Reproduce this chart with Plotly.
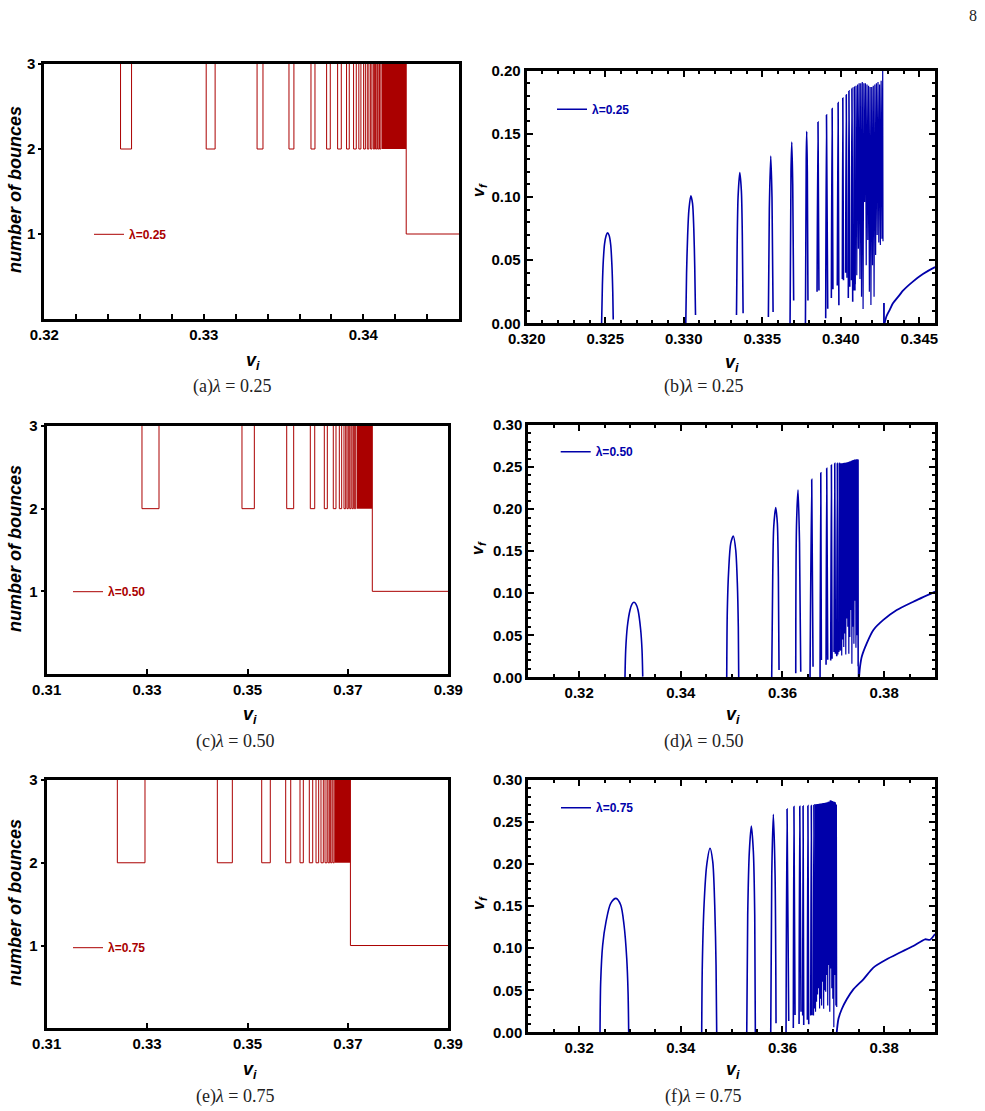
import plotly.graph_objects as go

W, H = 985, 1111
RED = "#AA0000"
BLUE = "#0000AA"
SANS = "Liberation Sans, Arial, sans-serif"
SERIF = "Liberation Serif, DejaVu Serif, serif"

# ---------------- data: number of bounces (left column) ----------------
bounce_levels = [3, 2, 1]          # outside windows, inside windows, after escape

a_win_start = [0.32478, 0.33015, 0.33334, 0.33534, 0.33672, 0.33770, 0.33839, 0.33895, 0.33939,
               0.33972, 0.34002, 0.34025, 0.34046, 0.34063, 0.34077, 0.34090, 0.34102]
a_win_end = [0.32547, 0.33071, 0.33371, 0.33565, 0.33697, 0.33793, 0.33862, 0.33912, 0.33956,
             0.33985, 0.34013, 0.34035, 0.34054, 0.34071, 0.34085, 0.34098, 0.34110]
a_band = [0.34115, 0.34269]        # dense chaotic band, escape velocity

c_win_start = [0.32898, 0.34890, 0.35781, 0.36251, 0.36530, 0.36709, 0.36829, 0.36922, 0.36982,
               0.37036, 0.37082, 0.37128]
c_win_end = [0.33237, 0.35136, 0.35920, 0.36339, 0.36590, 0.36763, 0.36876, 0.36956, 0.37008,
             0.37062, 0.37108, 0.37155]
c_band = [0.37175, 0.37486]

e_win_start = [0.32407, 0.34399, 0.35283, 0.35761, 0.36046, 0.36231, 0.36365, 0.36464, 0.36544,
               0.36604, 0.36657, 0.36703]
e_win_end = [0.32958, 0.34698, 0.35454, 0.35861, 0.36112, 0.36299, 0.36418, 0.36510, 0.36584,
             0.36637, 0.36684, 0.36729]
e_band = [0.36743, 0.37050]

# ---------------- data: final velocity (right column) ----------------
# (b) lambda = 0.25 -- resonance windows (arches), segments separated by None
b_arch_x = [0.32477, 0.32482, 0.32488, 0.32496, 0.32506, 0.32515, 0.32525, 0.32535, 0.32543, 0.32548, 0.32551, None,
            0.33013, 0.33018, 0.33025, 0.33033, 0.33045, 0.33056, 0.33064, 0.33070, 0.33075, None,
            0.33336, 0.33340, 0.33346, 0.33357, 0.33367, 0.33373, 0.33378, None,
            0.33539, 0.33545, 0.33554, 0.33562, 0.33569, None,
            0.33677, 0.33683, 0.33688, 0.33694, 0.33700, None,
            0.33775, 0.33780, 0.33783, 0.33787, 0.33791, None,
            0.33849, 0.33855, 0.33861, None,
            0.33904, 0.33909, 0.33917, None,
            0.33940, 0.33945, 0.33950, None,
            0.33978, 0.33983, 0.33988, None,
            0.34010, 0.34013, 0.34017, None,
            0.34031, 0.34035, 0.34040, None,
            0.34048, 0.34052, 0.34057, None,
            0.34067, 0.34071, 0.34076, None,
            0.34082, 0.34086, 0.34090]
b_arch_y = [0.0, 0.030, 0.050, 0.063, 0.0695, 0.0717, 0.0695, 0.062, 0.045, 0.025, 0.003, None,
            0.0, 0.040, 0.070, 0.090, 0.101, 0.095, 0.075, 0.045, 0.0066, None,
            0.0066, 0.060, 0.100, 0.1193, 0.105, 0.070, 0.008, None,
            0.005, 0.090, 0.1325, 0.100, 0.009, None,
            0.0, 0.120, 0.1435, 0.110, 0.018, None,
            0.0, 0.130, 0.152, 0.120, 0.018, None,
            0.025, 0.1594, 0.026, None,
            0.004, 0.165, 0.0116, None,
            0.020, 0.170, 0.027, None,
            0.030, 0.1747, 0.0142, None,
            0.035, 0.1784, 0.034, None,
            0.040, 0.181, 0.036, None,
            0.020, 0.184, 0.029, None,
            0.034, 0.186, 0.017, None,
            0.026, 0.187, 0.026]
b_dense_x = [0.34092, 0.34097, 0.34102, 0.34107, 0.34112, 0.34117, 0.34122, 0.34127, 0.34132, 0.34137,
             0.34142, 0.34147, 0.34152, 0.34157, 0.34162, 0.34167, 0.34172, 0.34177, 0.34182, 0.34187,
             0.34192, 0.34197, 0.34202, 0.34207, 0.34212, 0.34217, 0.34222, 0.34227, 0.34232, 0.34237,
             0.34242, 0.34247, 0.34252, 0.34257, 0.34262, 0.34267, 0.34269]
b_dense_y = [0.031, 0.188, 0.038, 0.189, 0.059, 0.190, 0.035, 0.190, 0.021, 0.191,
             0.0114, 0.190, 0.096, 0.190, 0.046, 0.189, 0.066, 0.188, 0.025, 0.187,
             0.0145, 0.187, 0.046, 0.188, 0.021, 0.189, 0.054, 0.190, 0.070, 0.191,
             0.064, 0.189, 0.062, 0.192, 0.067, 0.200, 0.065]
b_escape_x = [0.34275, 0.34275, None, 0.34279, 0.34290, 0.34311, 0.34332, 0.34375, 0.34396, 0.34459, 0.34523, 0.34597, 0.34610]
b_escape_y = [0.0, 0.016, None, 0.0, 0.0052, 0.0105, 0.0158, 0.0225, 0.0258, 0.0330, 0.0390, 0.0443, 0.0450]

# (d) lambda = 0.50
d_arch_x = [0.32902, 0.32916, 0.32948, 0.33001, 0.33040, 0.33079, 0.33118, 0.33158, 0.33211, 0.33237, 0.33251, None,
            0.34903, 0.34915, 0.34942, 0.34982, 0.35033, 0.35080, 0.35112, 0.35131, 0.35139, None,
            0.35788, 0.35808, 0.35828, 0.35867, 0.35899, 0.35919, 0.35932, None,
            0.36261, 0.36275, 0.36306, 0.36335, 0.36359, None,
            0.36542, 0.36575, 0.36601, None,
            0.36739, 0.36753, 0.36765, None,
            0.36857, 0.36870, 0.36890, None,
            0.36949, 0.36962, 0.36975, None,
            0.37014, 0.37028, 0.37040, None,
            0.37067, 0.37079, 0.37087, None,
            0.37107, 0.37118, 0.37126]
d_arch_y = [0.0, 0.0325, 0.0601, 0.0800, 0.0870, 0.0892, 0.0870, 0.0800, 0.0562, 0.0325, 0.0008, None,
            0.0, 0.080, 0.1277, 0.1593, 0.168, 0.1514, 0.1117, 0.060, 0.0, None,
            0.0, 0.1196, 0.1791, 0.2017, 0.183, 0.1196, 0.0087, None,
            0.0048, 0.1791, 0.2227, 0.1593, 0.0067, None,
            0.0, 0.2353, 0.0126, None,
            0.0, 0.2433, 0.0206, None,
            0.015, 0.2485, 0.021, None,
            0.020, 0.2524, 0.022, None,
            0.030, 0.2544, 0.028, None,
            0.025, 0.2544, 0.027, None,
            0.030, 0.2544, 0.032]
d_dense_x = [0.37135, 0.37145, 0.37155, 0.37165, 0.37175, 0.37185, 0.37195, 0.37205, 0.37215, 0.37225,
             0.37235, 0.37245, 0.37255, 0.37265, 0.37275, 0.37285, 0.37295, 0.37305, 0.37315, 0.37325,
             0.37335, 0.37345, 0.37355, 0.37365, 0.37375, 0.37385, 0.37395, 0.37405, 0.37415, 0.37425,
             0.37435, 0.37445, 0.37455, 0.37465, 0.37475, 0.37485, 0.37490, 0.37492]
d_dense_y = [0.2544, 0.032, 0.2545, 0.026, 0.2546, 0.045, 0.2548, 0.036, 0.2550, 0.052,
             0.2552, 0.027, 0.2555, 0.070, 0.2558, 0.060, 0.2560, 0.028, 0.2565, 0.048,
             0.2570, 0.080, 0.2575, 0.016, 0.2580, 0.060, 0.2585, 0.040, 0.2590, 0.091,
             0.2590, 0.035, 0.2592, 0.050, 0.2592, 0.013, 0.2590, 0.0]
d_escape_x = [0.37506, 0.37526, 0.37559, 0.37657, 0.37788, 0.37984, 0.38248, 0.38574, 0.39001]
d_escape_y = [0.0, 0.013, 0.0245, 0.0404, 0.0563, 0.0682, 0.0800, 0.0899, 0.1018]

# (f) lambda = 0.75
f_arch_x = [0.32411, 0.32424, 0.32463, 0.32529, 0.32621, 0.32725, 0.32818, 0.32883, 0.32936, 0.32962, 0.32975, None,
            0.34411, 0.34423, 0.34457, 0.34510, 0.34575, 0.34628, 0.34667, 0.34693, 0.34706, None,
            0.35297, 0.35316, 0.35348, 0.35387, 0.35427, 0.35454, 0.35466, None,
            0.35769, 0.35789, 0.35820, 0.35854, 0.35873, None,
            0.36070, 0.36090, 0.36123, None,
            0.36213, 0.36225, 0.36247, None,
            0.36326, 0.36340, 0.36365, None,
            0.36398, 0.36405, 0.36418, None,
            0.36489, 0.36500, 0.36516, None,
            0.36556, 0.36567, 0.36581, None,
            0.36607, 0.36618, 0.36634]
f_arch_y = [0.0, 0.0601, 0.1037, 0.1315, 0.1533, 0.1593, 0.1514, 0.1276, 0.0880, 0.0483, 0.0, None,
            0.0, 0.080, 0.1514, 0.1990, 0.2188, 0.2030, 0.1514, 0.080, 0.0, None,
            0.0, 0.1395, 0.2148, 0.2453, 0.2148, 0.1395, 0.0, None,
            0.0, 0.187, 0.2592, 0.187, 0.0107, None,
            0.0, 0.2655, 0.0133, None,
            0.005, 0.2684, 0.0207, None,
            0.010, 0.2688, 0.0245, None,
            0.020, 0.2691, 0.0087, None,
            0.015, 0.2695, 0.0095, None,
            0.020, 0.2697, 0.0206, None,
            0.020, 0.2703, 0.0283]
f_dense_x = [0.36640, 0.36650, 0.36660, 0.36670, 0.36680, 0.36690, 0.36700, 0.36710, 0.36720, 0.36730,
             0.36740, 0.36750, 0.36760, 0.36770, 0.36780, 0.36790, 0.36800, 0.36810, 0.36820, 0.36830,
             0.36840, 0.36850, 0.36860, 0.36870, 0.36880, 0.36890, 0.36900, 0.36910, 0.36920, 0.36930,
             0.36940, 0.36950, 0.36960, 0.36970, 0.36980, 0.36990, 0.37000, 0.37010, 0.37020, 0.37030,
             0.37040, 0.37050, 0.37060, 0.37067]
f_dense_y = [0.2711, 0.0245, 0.2712, 0.0364, 0.2714, 0.045, 0.2716, 0.0523, 0.2718, 0.0283,
             0.2720, 0.040, 0.2722, 0.032, 0.2724, 0.0602, 0.2726, 0.028, 0.2728, 0.050,
             0.2730, 0.0483, 0.2733, 0.0681, 0.2736, 0.032, 0.2740, 0.080, 0.2745, 0.0245,
             0.2760, 0.076, 0.2755, 0.0523, 0.2750, 0.040, 0.2745, 0.006, 0.2740, 0.068,
             0.2735, 0.032, 0.2710, 0.030]
f_escape_x = [0.37067, 0.37099, 0.37165, 0.37264, 0.37394, 0.37591, 0.37788, 0.38051, 0.38313, 0.38574,
              0.38804, 0.38903, 0.39001]
f_escape_y = [0.0, 0.0155, 0.0274, 0.0393, 0.0511, 0.0630, 0.0769, 0.0868, 0.0948, 0.1027,
              0.1106, 0.1100, 0.1169]

# ---------------- tick labels ----------------
a_xticks = [0.32, 0.33, 0.34]
ce_xticks = [0.31, 0.33, 0.35, 0.37, 0.39]
bounce_yticks = [1, 2, 3]
b_xticks = [0.320, 0.325, 0.330, 0.335, 0.340, 0.345]
b_yticks = [0.00, 0.05, 0.10, 0.15, 0.20]
df_xticks = [0.32, 0.34, 0.36, 0.38]
df_yticks = [0.00, 0.05, 0.10, 0.15, 0.20, 0.25, 0.30]

# ---------------- layout geometry (pixels) ----------------
panels = {
    1: dict(l=44.3, r=459.0, t=64.0, b=319.0),
    2: dict(l=526.7, r=935.0, t=70.7, b=323.3),
    3: dict(l=46.7, r=448.3, t=426.0, b=674.0),
    4: dict(l=528.3, r=935.0, t=425.0, b=677.3),
    5: dict(l=46.7, r=448.3, t=780.0, b=1028.3),
    6: dict(l=528.3, r=935.0, t=780.0, b=1032.3),
}


def xdom(p):
    return [p["l"] / W, p["r"] / W]


def ydom(p):
    return [1 - p["b"] / H, 1 - p["t"] / H]


fig = go.Figure()


def add_bounce(n, starts, ends, band, xr, lam, legend):
    # window outlines (the level-3 baseline coincides with the frame, so it is not drawn)
    xs, ys = [], []
    for s, e in zip(starts, ends):
        xs += [s, s, e, e, None]
        ys += [bounce_levels[0], bounce_levels[1], bounce_levels[1], bounce_levels[0], None]
    xs += [band[1], band[1], xr[1]]
    ys += [bounce_levels[0], bounce_levels[2], bounce_levels[2]]
    ax = "" if n == 1 else str(n)
    fig.add_trace(go.Scatter(
        x=[band[0], band[1], band[1], band[0], band[0]],
        y=[bounce_levels[1], bounce_levels[1], bounce_levels[0], bounce_levels[0], bounce_levels[1]],
        mode="lines", fill="toself", fillcolor=RED, line=dict(width=0, color=RED),
        xaxis="x" + ax, yaxis="y" + ax, showlegend=False, hoverinfo="skip"))
    fig.add_trace(go.Scatter(
        x=xs, y=ys, mode="lines", line=dict(color=RED, width=1), connectgaps=False,
        name=lam, xaxis="x" + ax, yaxis="y" + ax, legend=legend, showlegend=True))


def add_vf(n, ax_, ay_, dx, dy, ex, ey, lam, legend):
    ax = str(n)
    fig.add_trace(go.Scatter(
        x=dx, y=dy, mode="lines", line=dict(color=BLUE, width=1.2),
        xaxis="x" + ax, yaxis="y" + ax, showlegend=False, hoverinfo="skip"))
    fig.add_trace(go.Scatter(
        x=ex, y=ey, mode="lines", line=dict(color=BLUE, width=1.8, shape="spline", smoothing=0.6),
        connectgaps=False, xaxis="x" + ax, yaxis="y" + ax, showlegend=False, hoverinfo="skip"))
    fig.add_trace(go.Scatter(
        x=ax_, y=ay_, mode="lines", line=dict(color=BLUE, width=1.6, shape="spline", smoothing=0.8),
        connectgaps=False, name=lam, xaxis="x" + ax, yaxis="y" + ax, legend=legend, showlegend=True))


add_bounce(1, a_win_start, a_win_end, a_band, [0.32, 0.346], "λ=0.25", "legend")
add_vf(2, b_arch_x, b_arch_y, b_dense_x, b_dense_y, b_escape_x, b_escape_y, "λ=0.25", "legend2")
add_bounce(3, c_win_start, c_win_end, c_band, [0.31, 0.39], "λ=0.50", "legend3")
add_vf(4, d_arch_x, d_arch_y, d_dense_x, d_dense_y, d_escape_x, d_escape_y, "λ=0.50", "legend4")
add_bounce(5, e_win_start, e_win_end, e_band, [0.31, 0.39], "λ=0.75", "legend5")
add_vf(6, f_arch_x, f_arch_y, f_dense_x, f_dense_y, f_escape_x, f_escape_y, "λ=0.75", "legend6")

tickfont = dict(family=SANS, size=15, color="black", weight="bold")
layout = dict(width=W, height=H, margin=dict(l=0, r=0, t=0, b=0, pad=0, autoexpand=False),
              paper_bgcolor="white", plot_bgcolor="white", showlegend=True)


def left_axes(n, xr, xt, minor_dt):
    p = panels[n]
    ax = "" if n == 1 else str(n)
    xa = dict(domain=xdom(p), anchor="y" + ax, range=xr, tickmode="array", tickvals=xt, tickformat=".2f",
              showline=True, linewidth=3, linecolor="black", mirror=True, ticks="inside", ticklen=5,
              tickwidth=1.5, tickcolor="black", showgrid=False, zeroline=False, tickfont=tickfont,
              automargin=False)
    if minor_dt:
        xa["minor"] = dict(tickmode="linear", tick0=xr[0], dtick=minor_dt, ticks="inside", ticklen=5,
                           tickwidth=1.5, tickcolor="black", showgrid=False)
    ya = dict(domain=ydom(p), anchor="x" + ax, range=[0, 3], tickmode="array", tickvals=bounce_yticks,
              showline=True, linewidth=3, linecolor="black", mirror=True, ticks="outside", ticklen=3,
              tickwidth=1.5, tickcolor="black", showgrid=False, zeroline=False, tickfont=tickfont,
              automargin=False)
    layout["xaxis" + ax] = xa
    layout["yaxis" + ax] = ya


def right_axes(n, xr, xt, xfmt, xminor, yr, yt):
    p = panels[n]
    ax = str(n)
    common = dict(showline=True, linewidth=3, linecolor="black", mirror="allticks", ticks="inside",
                  ticklen=6, tickwidth=1.5, tickcolor="black", showgrid=False, zeroline=False,
                  tickfont=tickfont, automargin=False)
    layout["xaxis" + ax] = dict(domain=xdom(p), anchor="y" + ax, range=xr, tickmode="array", tickvals=xt,
                                tickformat=xfmt,
                                minor=dict(tickmode="linear", tick0=xr[0], dtick=xminor, ticks="inside",
                                           ticklen=3, tickwidth=1.5, tickcolor="black", showgrid=False),
                                **common)
    layout["yaxis" + ax] = dict(domain=ydom(p), anchor="x" + ax, range=yr, tickmode="array", tickvals=yt,
                                tickformat=".2f",
                                minor=dict(tickmode="linear", tick0=0, dtick=0.01, ticks="inside",
                                           ticklen=3, tickwidth=1.5, tickcolor="black", showgrid=False),
                                **common)


left_axes(1, [0.32, 0.346], a_xticks, 0.002)
right_axes(2, [0.320, 0.346], b_xticks, ".3f", 0.001, [0, 0.20], b_yticks)
left_axes(3, [0.31, 0.39], ce_xticks, None)
right_axes(4, [0.31, 0.39], df_xticks, ".2f", 0.005, [0, 0.30], df_yticks)
left_axes(5, [0.31, 0.39], ce_xticks, None)
right_axes(6, [0.31, 0.39], df_xticks, ".2f", 0.005, [0, 0.30], df_yticks)

# legends (line sample start x, centre y in px)
leg_pos = {"legend": (94, 234.3, RED), "legend2": (557, 109.3, BLUE), "legend3": (73, 591.7, RED),
           "legend4": (560.7, 451.7, BLUE), "legend5": (73, 947.7, RED), "legend6": (561, 807.7, BLUE)}
for k, (lx, ly, col) in leg_pos.items():
    layout[k] = dict(x=(lx - 5) / W, y=1 - ly / H, xanchor="left", yanchor="middle", xref="paper",
                     yref="paper", bgcolor="rgba(0,0,0,0)", borderwidth=0, itemwidth=30,
                     font=dict(family=SANS, size=12, color=col, weight="bold"))

ann = []


def text(x, y, s, size, family=SANS, angle=0, color="black"):
    ann.append(dict(x=x / W, y=1 - y / H, xref="paper", yref="paper", text=s, showarrow=False,
                    xanchor="center", yanchor="middle", textangle=angle,
                    font=dict(family=family, size=size, color=color)))


for yc in (190, 549, 903):
    text(15, yc, "<b><i>number of bounces</i></b>", 18, angle=-90)
for yc in (190, 548, 903):
    text(479, yc, "<b><i>v<sub>f</sub></i></b>", 16, angle=-90)
for (xc, yc) in ((253, 362), (731.7, 363), (250, 715), (733, 715), (250, 1070), (733, 1070)):
    text(xc, yc, "<b><i>v<sub>i</sub></i></b>", 18)
caps = [((231.7, 387), "(a)"), ((703, 387), "(b)"), ((235, 741), "(c)"), ((703, 741), "(d)"),
        ((235, 1096), "(e)"), ((703, 1096), "(f)")]
lams = ["0.25", "0.25", "0.50", "0.50", "0.75", "0.75"]
for ((xc, yc), lab), lv in zip(caps, lams):
    text(xc, yc, lab + "<i>λ</i> = " + lv, 18, family=SERIF, color="#222222")
text(973, 15, "8", 16, family=SERIF, color="#222222")
layout["annotations"] = ann

fig.update_layout(**layout)
fig.write_html("out.html")
